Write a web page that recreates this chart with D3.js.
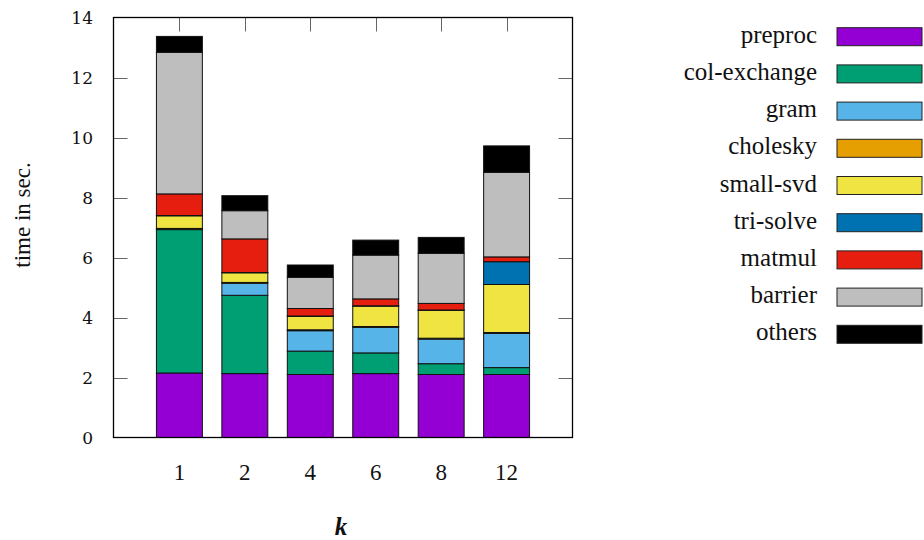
<!DOCTYPE html>
<html>
<head>
<meta charset="utf-8">
<script src="https://cdn.jsdelivr.net/npm/d3@7"></script>
</head>
<body style="margin:0">
<svg id="chart" width="924" height="540"></svg>
<script>
const categories = ["1", "2", "4", "6", "8", "12"];
const seriesNames = ["preproc", "col-exchange", "gram", "cholesky", "small-svd", "tri-solve", "matmul", "barrier", "others"];
const seriesColors = ["#9400D3", "#009E73", "#56B4E9", "#E69F00", "#F0E442", "#0072B2", "#E51E10", "#BEBEBE", "#000000"];
const preproc     = [2.15, 2.13, 2.10, 2.13, 2.10, 2.10];
const colExchange = [4.78, 2.61, 0.78, 0.69, 0.36, 0.23];
const gram        = [0.01, 0.40, 0.68, 0.85, 0.82, 1.14];
const cholesky    = [0.03, 0.03, 0.03, 0.03, 0.03, 0.03];
const smallSvd    = [0.42, 0.32, 0.45, 0.68, 0.93, 1.60];
const triSolve    = [0.01, 0.01, 0.01, 0.01, 0.01, 0.76];
const matmul      = [0.72, 1.12, 0.25, 0.23, 0.22, 0.16];
const barrier     = [4.72, 0.94, 1.04, 1.46, 1.67, 2.82];
const others      = [0.53, 0.50, 0.41, 0.50, 0.53, 0.88];
const yTicks = [0, 2, 4, 6, 8, 10, 12, 14];

const seriesValues = [preproc, colExchange, gram, cholesky, smallSvd, triSolve, matmul, barrier, others];
const table = categories.map((c, i) => {
  const row = { k: c };
  seriesNames.forEach((n, j) => row[n] = seriesValues[j][i]);
  return row;
});

const SERIF = "'Liberation Serif', 'Times New Roman', serif";
const DSERIF = "'DejaVu Serif', serif";
function font(sel, fam, size) {
  return sel.style("font-family", fam, "important").style("font-size", size + "px", "important");
}

const svg = d3.select("#chart");
const L = 113.5, R = 572.5, T = 17.5, B = 437.5;

const x = d3.scaleBand().domain(categories).range([L, R]).paddingInner(0.298).paddingOuter(0.656);
const y = d3.scaleLinear().domain([0, 14]).range([B, T]);
const color = d3.scaleOrdinal().domain(seriesNames).range(seriesColors);

const stack = d3.stack().keys(seriesNames)(table);

// bars
svg.append("g").selectAll("g").data(stack).join("g")
  .attr("fill", d => color(d.key))
  .selectAll("rect").data(d => d).join("rect")
  .attr("x", d => x(d.data.k))
  .attr("width", x.bandwidth())
  .attr("y", d => y(d[1]))
  .attr("height", d => y(d[0]) - y(d[1]))
  .attr("stroke", "#111")
  .attr("stroke-width", 1);

// ticks (inward, mirrored)
const tickLen = 14;
const tg = svg.append("g").attr("stroke", "#666").attr("stroke-width", 1);
yTicks.forEach(t => {
  const yy = Math.round(y(t)) + 0.5;
  if (t > 0 && t < 14) {
    tg.append("line").attr("x1", L).attr("x2", L + tickLen).attr("y1", yy).attr("y2", yy);
    tg.append("line").attr("x1", R).attr("x2", R - tickLen).attr("y1", yy).attr("y2", yy);
  }
});
categories.forEach(c => {
  const xx = Math.round(x(c) + x.bandwidth() / 2) + 0.5;
  tg.append("line").attr("x1", xx).attr("x2", xx).attr("y1", T).attr("y2", T + tickLen);
});

// frame
svg.append("rect").attr("x", L).attr("y", T).attr("width", R - L).attr("height", B - T)
  .attr("fill", "none").attr("stroke", "#000").attr("stroke-width", 1.3);

// y tick labels
font(svg.append("g").selectAll("text").data(yTicks).join("text")
  .attr("x", 93).attr("y", d => y(d))
  .attr("dy", "0.36em")
  .attr("text-anchor", "end")
  .attr("fill", "#111")
  .text(d => d), DSERIF, 17);

// x tick labels
font(svg.append("g").selectAll("text").data(categories).join("text")
  .attr("x", d => x(d) + x.bandwidth() / 2).attr("y", 480)
  .attr("text-anchor", "middle")
  .attr("fill", "#111")
  .text(d => d), SERIF, 23);

// axis titles
font(svg.append("text")
  .attr("transform", "translate(30,215) rotate(-90)")
  .attr("text-anchor", "middle")
  .attr("fill", "#111")
  .text("time in sec."), SERIF, 23);
font(svg.append("text")
  .attr("x", 341).attr("y", 535)
  .attr("text-anchor", "middle")
  .attr("font-style", "italic").attr("font-weight", "bold").attr("fill", "#111")
  .text("k"), SERIF, 25);

// legend
const lg = svg.append("g");
const legendY0 = 36.7, legendStep = 37.2;
seriesNames.forEach((n, i) => {
  const cy = legendY0 + i * legendStep;
  lg.append("rect").attr("x", 837).attr("y", cy - 9).attr("width", 85).attr("height", 18)
    .attr("fill", color(n)).attr("stroke", "#222").attr("stroke-width", 1);
  font(lg.append("text")
    .attr("x", 817).attr("y", cy + 6)
    .attr("text-anchor", "end")
    .attr("fill", "#111")
    .text(n), SERIF, 25);
});
</script>
</body>
</html>
